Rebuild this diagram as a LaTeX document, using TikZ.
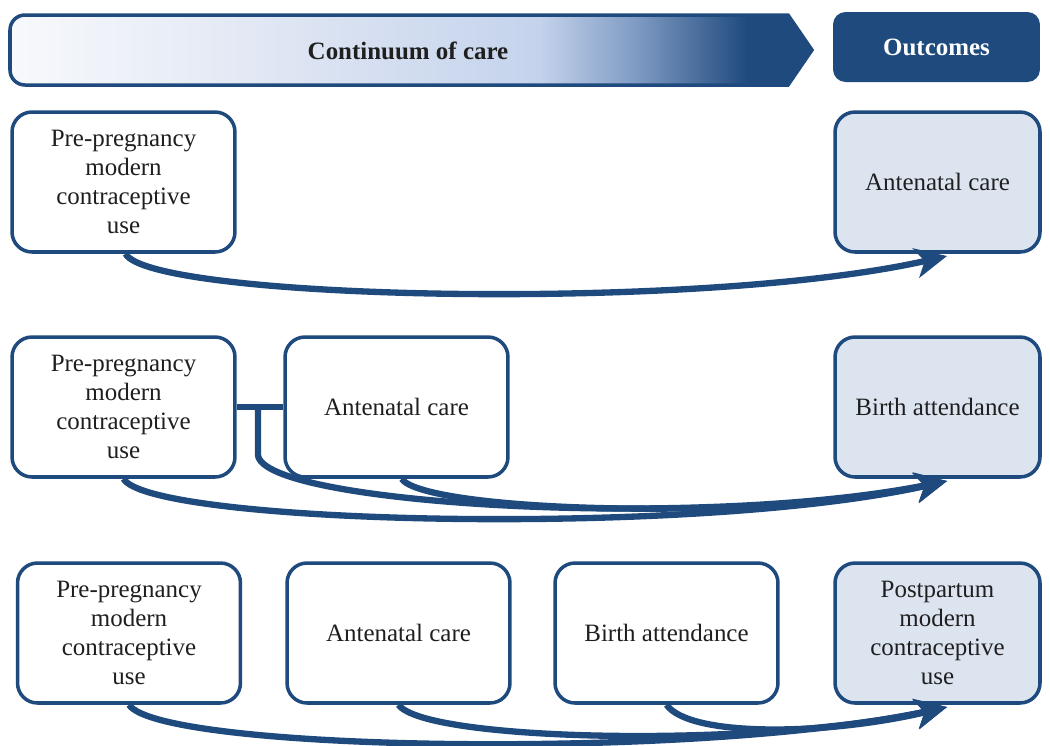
\documentclass[tikz,border=0pt]{standalone}
\usepackage{fontspec}
\setmainfont{Liberation Serif}
\usetikzlibrary{arrows.meta}
\definecolor{navy}{HTML}{1F4A7E}
\definecolor{lightfill}{HTML}{DCE4F0}
\definecolor{sc0}{HTML}{F7F9FC}
\definecolor{sc1}{HTML}{E2E8F4}
\definecolor{sc2}{HTML}{C4D3EC}
\definecolor{sc3}{HTML}{7F9BC3}
\pgfdeclarehorizontalshading{bannershade}{100bp}{color(0bp)=(sc0); color(25bp)=(sc0); color(40bp)=(sc1); color(58bp)=(sc2); color(64bp)=(sc3); color(71bp)=(navy); color(100bp)=(navy)}
\begin{document}
\begin{tikzpicture}[x=0.02cm,y=-0.02cm,
  txt/.style={font=\fontsize{14.2}{16.5}\selectfont, text=black!88},
  box/.style={txt, draw=navy, line width=2pt, rounded corners=0.4cm, fill=white,
    minimum width=4.46cm, minimum height=2.8cm, align=center, inner sep=2pt},
  outbox/.style={box, fill=lightfill, minimum width=4.1cm},
  flow/.style={navy, line width=3.6pt, -{Stealth[length=18pt, width=17pt, inset=5pt]}},
  plain/.style={navy, line width=3.6pt}]
\useasboundingbox (0,0) rectangle (1050,745);
% header
\path[shading=bannershade, draw=navy, line width=2pt, rounded corners=0.3cm]
  (400,15) -- (10,15) -- (10,85) -- (400,85) [sharp corners] -- (788,85) -- (812,50) -- (788,15) -- cycle;
\node[txt, font=\fontsize{14.2}{16.5}\selectfont\bfseries] (cont) at (408,51) {Continuum of care};
\node[fill=navy, rounded corners=0.25cm, minimum width=4.14cm, minimum height=1.4cm,
  text=white, font=\fontsize{14.2}{16.5}\selectfont\bfseries] (outc) at (936.5,47) {Outcomes};
% row 1
\node[box] (a1) at (123.5,182) {Pre-pregnancy\\modern\\contraceptive\\use};
\node[outbox] (o1) at (937.5,182) {Antenatal care};
\coordinate (t1) at (947,256);
\draw[flow] ([xshift=0.04cm]a1.south) .. controls (150,300) and (700,312) .. (t1);
% row 2
\node[box] (a2) at (123.5,407) {Pre-pregnancy\\modern\\contraceptive\\use};
\node[box] (b2) at (396.5,407) {Antenatal care};
\node[outbox] (o2) at (937.5,407) {Birth attendance};
\coordinate (t2) at (947,481);
\coordinate (j2) at (258,405);
\draw[plain] (a2.east) -- (b2.west);
\draw[flow] (a2.south) .. controls (150,525) and (700,537) .. (t2);
\draw[flow] (j2) -- (258,455) .. controls (262,505) and (700,530) .. (t2);
\draw[flow] ([xshift=0.1cm]b2.south) .. controls (425,512) and (760,522) .. (t2);
% row 3
\node[box] (a3) at (129,633) {Pre-pregnancy\\modern\\contraceptive\\use};
\node[box] (b3) at (398.5,633) {Antenatal care};
\node[box] (c3) at (666.5,633) {Birth attendance};
\node[outbox] (o3) at (937.5,633) {Postpartum\\modern\\contraceptive\\use};
\coordinate (t3) at (947,707);
\draw[flow] (a3.south) .. controls (160,752) and (700,760) .. (t3);
\draw[flow] (b3.south) .. controls (425,742) and (760,748) .. (t3);
\draw[flow] (c3.south) .. controls (690,738) and (830,735) .. (t3);
\end{tikzpicture}
\end{document}
